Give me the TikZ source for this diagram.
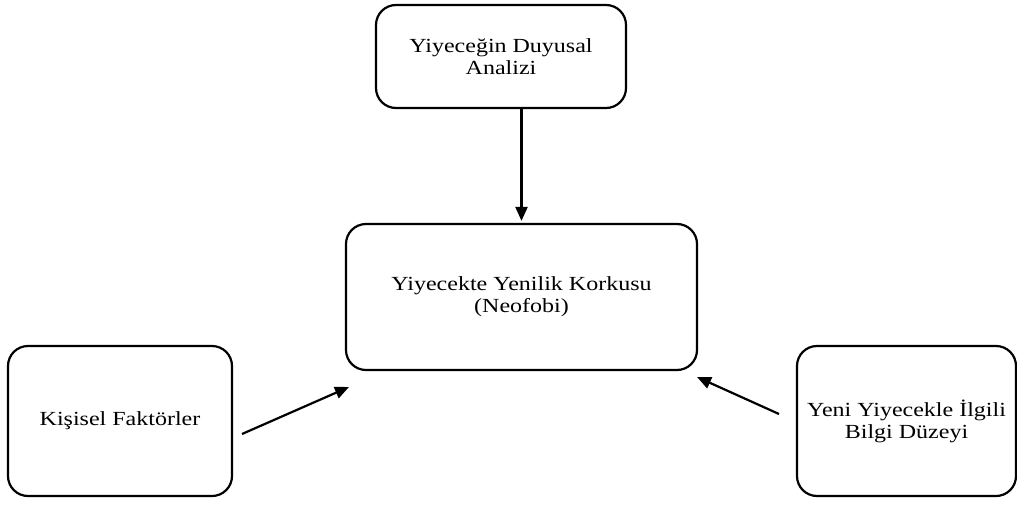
\documentclass[tikz,border=0pt]{standalone}
\usepackage{fontspec}
\setmainfont{Liberation Serif}[FakeStretch=1.2]
\usetikzlibrary{arrows.meta}

\begin{document}
\begin{tikzpicture}[x=1pt, y=-1pt,
  kutu/.style={draw, line width=2.2pt, rounded corners=20pt, align=center,
    inner sep=0pt, font=\fontsize{20}{22}\selectfont},
  ok/.style={line width=2.2pt, -{Triangle[length=14pt, width=12pt]}}]

  \useasboundingbox (0,0) rectangle (1017,506);

  % Boxes
  \node[kutu, minimum width=250pt, minimum height=103pt] (duyusal) at (501,56.5)
    {Yiyeceğin Duyusal\\Analizi};
  \node[kutu, minimum width=351pt, minimum height=146pt] (neofobi) at (521.5,297)
    {Yiyecekte Yenilik Korkusu\\(Neofobi)};
  \node[kutu, minimum width=224pt, minimum height=150pt] (kisisel) at (120,421)
    {\raisebox{-6pt}{Kişisel Faktörler}};
  \node[kutu, minimum width=219pt, minimum height=150pt] (bilgi) at (906.5,421)
    {Yeni Yiyecekle İlgili\\Bilgi Düzeyi};

  % Arrow ends
  \coordinate (kOut) at (242,434);
  \coordinate (kIn) at (349,387);
  \coordinate (bOut) at (779,414);
  \coordinate (bIn) at (697,377);

  % Arrows
  \draw[ok] (duyusal.south -| neofobi.north) -- ([yshift=2pt]neofobi.north);
  \draw[ok] (kOut) -- (kIn);
  \draw[ok] (bOut) -- (bIn);

\end{tikzpicture}
\end{document}
